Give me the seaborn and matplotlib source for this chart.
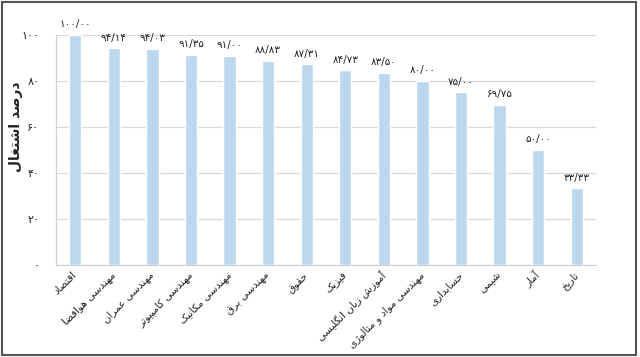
import matplotlib
matplotlib.use("Agg")
import matplotlib.pyplot as plt
import seaborn as sns
import pandas as pd
from matplotlib.patches import Rectangle

categories = ["اقتصاد", "مهندسی هوافضا", "مهندسی عمران", "مهندسی کامپیوتر",
              "مهندسی مکانیک", "مهندسی برق", "حقوق", "فیزیک",
              "آموزش زبان انگلیسی", "مهندسی مواد و متالوژی", "حسابداری",
              "شیمی", "آمار", "تاریخ"]
values = [100.00, 94.14, 94.03, 91.35, 91.00, 88.83, 87.31, 84.73,
          83.50, 80.00, 75.00, 69.75, 50.00, 33.33]
y_ticks = [0, 20, 40, 60, 80, 100]
y_label = "درصد اشتغال"

# --- minimal Persian shaping (presentation forms) + visual reordering ---
FORMS = {
    "ا": (0xFE8D, 0xFE8E), "آ": (0xFE81, 0xFE82),
    "ب": (0xFE8F, 0xFE90, 0xFE91, 0xFE92), "پ": (0xFB56, 0xFB57, 0xFB58, 0xFB59),
    "ت": (0xFE95, 0xFE96, 0xFE97, 0xFE98), "ث": (0xFE99, 0xFE9A, 0xFE9B, 0xFE9C),
    "ج": (0xFE9D, 0xFE9E, 0xFE9F, 0xFEA0), "ح": (0xFEA1, 0xFEA2, 0xFEA3, 0xFEA4),
    "خ": (0xFEA5, 0xFEA6, 0xFEA7, 0xFEA8), "د": (0xFEA9, 0xFEAA),
    "ذ": (0xFEAB, 0xFEAC), "ر": (0xFEAD, 0xFEAE), "ز": (0xFEAF, 0xFEB0),
    "ژ": (0xFB8A, 0xFB8B),
    "س": (0xFEB1, 0xFEB2, 0xFEB3, 0xFEB4), "ش": (0xFEB5, 0xFEB6, 0xFEB7, 0xFEB8),
    "ص": (0xFEB9, 0xFEBA, 0xFEBB, 0xFEBC), "ض": (0xFEBD, 0xFEBE, 0xFEBF, 0xFEC0),
    "ط": (0xFEC1, 0xFEC2, 0xFEC3, 0xFEC4), "ظ": (0xFEC5, 0xFEC6, 0xFEC7, 0xFEC8),
    "ع": (0xFEC9, 0xFECA, 0xFECB, 0xFECC), "غ": (0xFECD, 0xFECE, 0xFECF, 0xFED0),
    "ف": (0xFED1, 0xFED2, 0xFED3, 0xFED4), "ق": (0xFED5, 0xFED6, 0xFED7, 0xFED8),
    "ک": (0xFB8E, 0xFB8F, 0xFB90, 0xFB91), "گ": (0xFB92, 0xFB93, 0xFB94, 0xFB95),
    "ل": (0xFEDD, 0xFEDE, 0xFEDF, 0xFEE0), "م": (0xFEE1, 0xFEE2, 0xFEE3, 0xFEE4),
    "ن": (0xFEE5, 0xFEE6, 0xFEE7, 0xFEE8), "ه": (0xFEE9, 0xFEEA, 0xFEEB, 0xFEEC),
    "و": (0xFEED, 0xFEEE), "ی": (0xFBFC, 0xFBFD, 0xFBFE, 0xFBFF),
}


def shape(text):
    out = []
    n = len(text)
    for i, ch in enumerate(text):
        f = FORMS.get(ch)
        if f is None:
            out.append(ch)
            continue
        prev = text[i - 1] if i > 0 else ""
        nxt = text[i + 1] if i < n - 1 else ""
        jp = prev in FORMS and len(FORMS[prev]) == 4
        jn = len(f) == 4 and nxt in FORMS
        if jp and jn:
            out.append(chr(f[3]))
        elif jp:
            out.append(chr(f[1]))
        elif jn:
            out.append(chr(f[2]))
        else:
            out.append(chr(f[0]))
    return "".join(out)[::-1]


PDIG = str.maketrans("0123456789", "۰۱۲۳۴۵۶۷۸۹")


def fa_num(v, dec=True):
    s = f"{v:.2f}".replace(".", "/") if dec else f"{int(v)}"
    return s.translate(PDIG)


sns.set_style("white")
plt.rcParams["font.family"] = ["DejaVu Sans"]

df = pd.DataFrame({"cat": categories, "val": values})

fig = plt.figure(figsize=(6.4, 3.57), dpi=100)
ax = fig.add_axes([56 / 640, 1 - 265 / 357, 540 / 640, 230 / 357])

sns.barplot(data=df, x="cat", y="val", color="#BDD7EE", saturation=1,
            width=0.32, ax=ax, zorder=3)

ax.set_xlim(-0.5, len(categories) - 0.5)
ax.set_ylim(0, 100)
ax.set_yticks(y_ticks)
ax.set_yticklabels([fa_num(t, dec=False) for t in y_ticks], fontsize=8,
                   color="#222222")
ax.yaxis.grid(True, color="#D9D9D9", linewidth=0.9, zorder=0)
ax.set_axisbelow(True)

ax.set_xticks(range(len(categories)))
ax.set_xticklabels([shape(c) for c in categories], rotation=45, ha="right",
                   va="center", rotation_mode="anchor", fontsize=7.5,
                   color="#222222")
ax.tick_params(axis="x", length=0, pad=6)
ax.tick_params(axis="y", length=0, pad=12)

for sp in ["top", "right"]:
    ax.spines[sp].set_visible(False)
for sp in ["left", "bottom"]:
    ax.spines[sp].set_color("#D0D0D0")
    ax.spines[sp].set_linewidth(0.9)

for i, v in enumerate(values):
    ax.annotate(fa_num(v), (i, v), xytext=(0, 4), textcoords="offset points",
                ha="center", va="bottom", fontsize=7.5, color="#222222")

ax.set_xlabel("")
ax.set_ylabel(shape(y_label), fontsize=10, fontweight="bold", color="#222222")
ax.yaxis.set_label_coords(-0.062, 0.6)

fig.patches.append(Rectangle((0.003, 0.006), 0.99, 0.988,
                             transform=fig.transFigure, fill=False,
                             edgecolor="#555555", linewidth=1.5))

fig.savefig("out.png", dpi=100)
